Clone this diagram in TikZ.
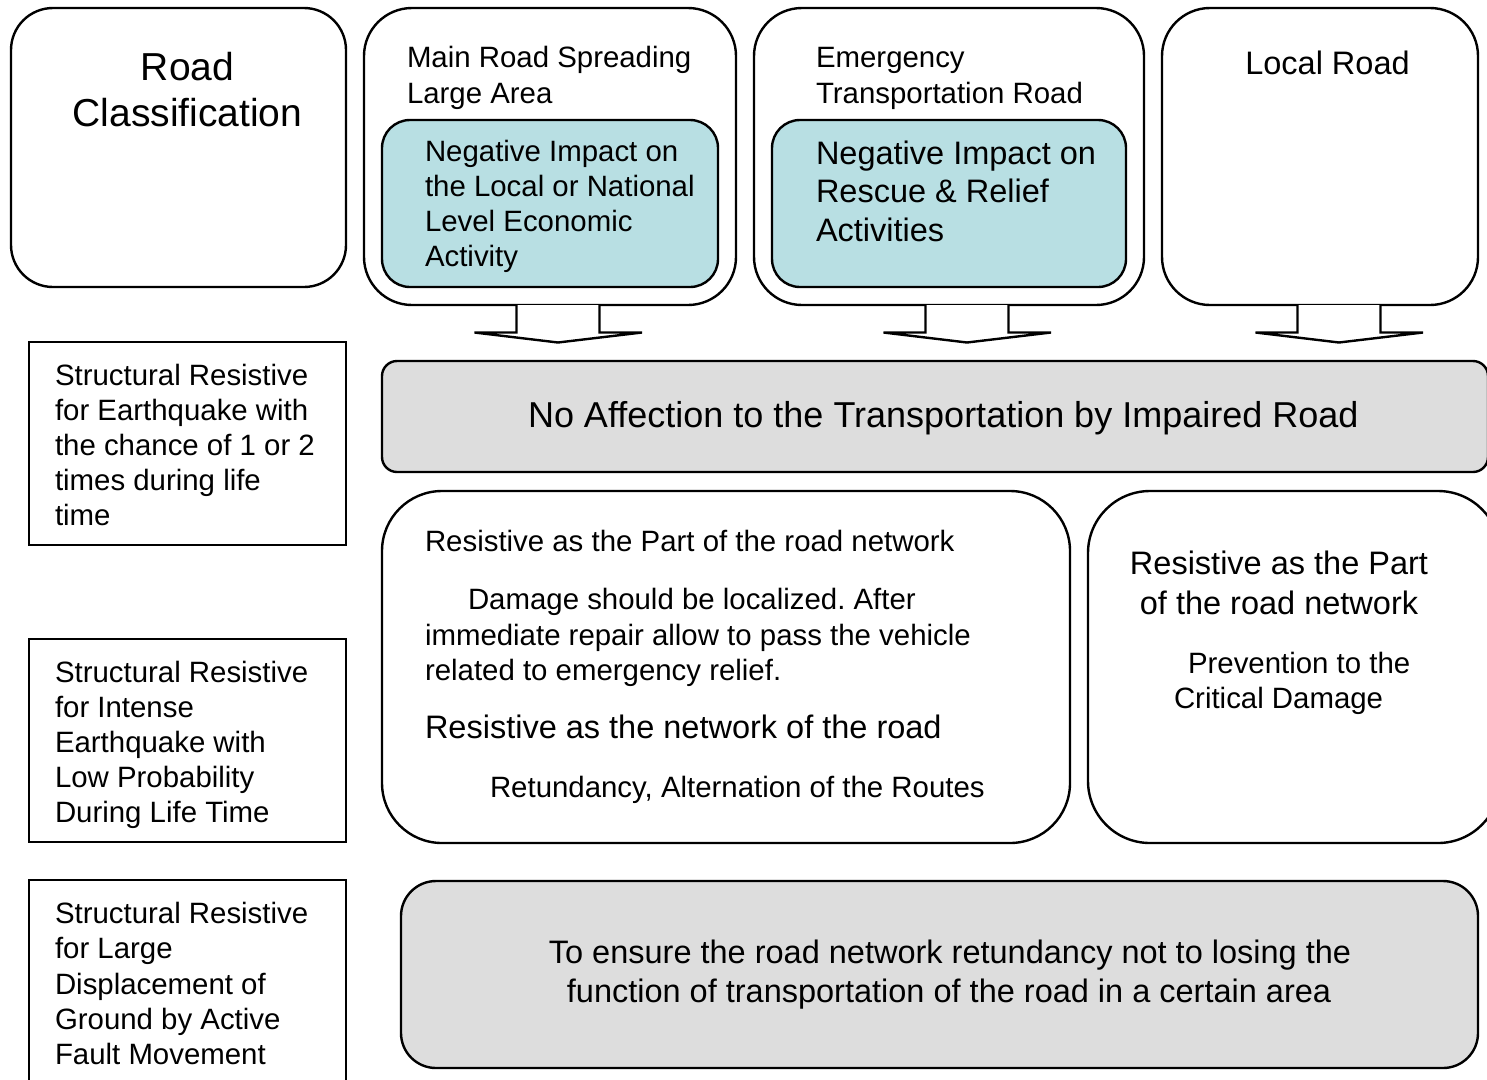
\documentclass[tikz,border=0pt]{standalone}
\usepackage{fontspec}
\setmainfont{Liberation Sans}
\definecolor{gfill}{RGB}{221,221,221}
\definecolor{cfill}{RGB}{184,223,227}
\frenchspacing
\begin{document}
\begin{tikzpicture}[x=1pt,y=-1pt,
  box/.style={draw=black, line width=2.4pt, fill=white, inner sep=0pt, outer sep=0pt},
  rbox/.style={box, rounded corners=#1},
  tl/.style={anchor=base west, inner sep=0pt, outer sep=0pt, font=\fontsize{29.4}{35}\selectfont},
  tc/.style={anchor=base, inner sep=0pt, outer sep=0pt, font=\fontsize{29.4}{35}\selectfont},
  big/.style={font=\fontsize{32.5}{39}\selectfont},
  barrow/.style={draw=black, line width=2.4pt, fill=white, line join=miter}]
\useasboundingbox (0,0) rectangle (1487,1079);
\clip (0,0) rectangle (1487,1079);

% top row
\node[rbox=42pt, minimum width=335pt, minimum height=279pt] (b1) at (178.5,147.5) {};
\node[rbox=48pt, minimum width=372pt, minimum height=297pt] (b2) at (550,156.5) {};
\node[rbox=28pt, minimum width=336pt, minimum height=167pt, fill=cfill] (b2i) at (550,203.5) {};
\node[rbox=48pt, minimum width=390pt, minimum height=297pt] (b3) at (949,156.5) {};
\node[rbox=28pt, minimum width=354pt, minimum height=167pt, fill=cfill] (b3i) at (949,203.5) {};
\node[rbox=48pt, minimum width=316pt, minimum height=297pt] (b4) at (1320,156.5) {};

% block arrows
\coordinate (a2) at (558,305);
\coordinate (a3) at (967,305);
\coordinate (a4) at (1339,305);
\foreach \c in {a2,a3,a4}{
  \draw[barrow] ([xshift=-41.5pt]\c) -- ++(0,27.5) -- ++(-42,0) -- ([yshift=-37.5pt]\c)
     -- ([xshift=84pt,yshift=-27.5pt]\c) -- ++(-42.5,0) -- ([xshift=41.5pt]\c);
}

% gray banner
\node[box, rounded corners=15pt, fill=gfill, minimum width=1106pt, minimum height=111pt] (g1) at (935,416.5) {};
% middle boxes
\node[rbox=60pt, minimum width=688pt, minimum height=352pt] (b7) at (726,667) {};
\node[rbox=62pt, minimum width=412pt, minimum height=352pt] (b8) at (1294,667) {};
% bottom gray
\node[box, rounded corners=35pt, fill=gfill, minimum width=1077pt, minimum height=187pt] (g2) at (939.5,974.5) {};
% left rectangles
\node[box, line width=2pt, minimum width=317pt, minimum height=203pt] (r1) at (187.5,443.5) {};
\node[box, line width=2pt, minimum width=317pt, minimum height=203pt] (r2) at (187.5,740.5) {};
\node[box, line width=2pt, minimum width=317pt, minimum height=215pt] (r3) at (187.5,987.5) {};

% texts: road classification
\node[tc, font=\fontsize{39}{46}\selectfont] (t1a) at (187.5,80) {Road};
\node[tc, font=\fontsize{39}{46}\selectfont] (t1b) at (187.5,126.5) {Classification};
% main road
\node[tl] (t2a) at (407,67.5) {Main Road Spreading};
\node[tl] (t2b) at (407,103) {Large Area};
\node[tl] (t2c) at (425,161.5) {Negative Impact on};
\node[tl] (t2d) at (425,196.5) {the Local or National};
\node[tl] (t2e) at (425,231.5) {Level Economic};
\node[tl] (t2f) at (425,266.5) {Activity};
% emergency
\node[tl] (t3a) at (816,67.5) {Emergency};
\node[tl] (t3b) at (816,103) {Transportation Road};
\node[tl, big] (t3c) at (816,164) {Negative Impact on};
\node[tl, big] (t3d) at (816,202.5) {Rescue \& Relief};
\node[tl, big] (t3e) at (816,241) {Activities};
% local road
\node[tc, big] (t4) at (1327.5,74) {Local Road};
% banner
\node[tl, font=\fontsize{36}{43}\selectfont] (tg1) at (528,427) {No Affection to the Transportation by Impaired Road};
% left rectangles
\node[tl] (r1a) at (55,385) {Structural Resistive};
\node[tl] (r1b) at (55,420.5) {for Earthquake with};
\node[tl] (r1c) at (55,455.5) {the chance of 1 or 2};
\node[tl] (r1d) at (55,490.5) {times during life};
\node[tl] (r1e) at (55,525.5) {time};
\node[tl] (r2a) at (55,682.5) {Structural Resistive};
\node[tl] (r2b) at (55,717.5) {for Intense};
\node[tl] (r2c) at (55,752.5) {Earthquake with};
\node[tl] (r2d) at (55,787.5) {Low Probability};
\node[tl] (r2e) at (55,822.5) {During Life Time};
\node[tl] (r3a) at (55,923.5) {Structural Resistive};
\node[tl] (r3b) at (55,958.5) {for Large};
\node[tl] (r3c) at (55,994) {Displacement of};
\node[tl] (r3d) at (55,1029) {Ground by Active};
\node[tl] (r3e) at (55,1064) {Fault Movement};
% middle-left box
\node[tl] (t7a) at (425,551.5) {Resistive as the Part of the road network};
\node[tl] (t7b) at (468,609.5) {Damage should be localized. After};
\node[tl] (t7c) at (425,645) {immediate repair allow to pass the vehicle};
\node[tl] (t7d) at (425,680) {related to emergency relief.};
\node[tl, big] (t7e) at (425,738.5) {Resistive as the network of the road};
\node[tl] (t7f) at (490,797.5) {Retundancy, Alternation of the Routes};
% middle-right box
\node[tc, big] (t8a) at (1279,574.5) {Resistive as the Part};
\node[tc, big] (t8b) at (1279,614) {of the road network};
\node[tl] (t8c) at (1188,673.5) {Prevention to the};
\node[tl] (t8d) at (1174,708.5) {Critical Damage};
% bottom gray
\node[tc, big] (tb1) at (950,963.5) {To ensure the road network retundancy not to losing the};
\node[tc, big] (tb2) at (949,1002.5) {function of transportation of the road in a certain area};
\end{tikzpicture}
\end{document}
